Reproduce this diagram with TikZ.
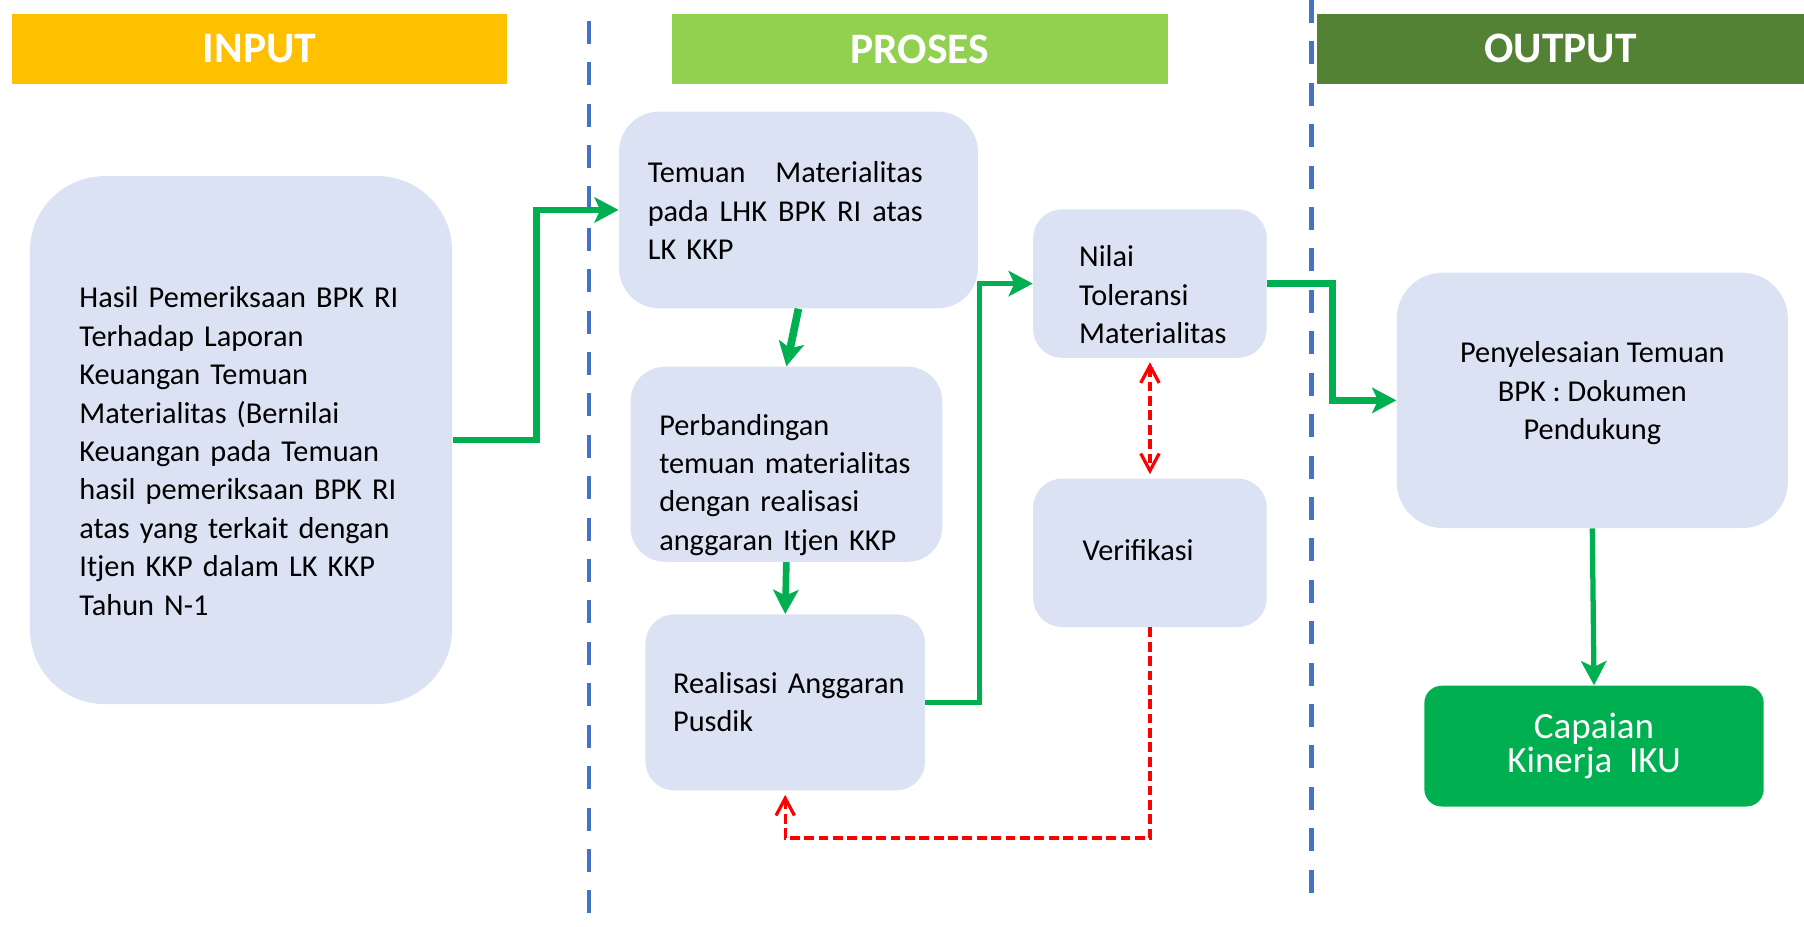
\documentclass[tikz,border=0pt]{standalone}
\usepackage{fontspec}
\setmainfont{Carlito}
\usepackage{xcolor}
\usepackage{tikz}
\usetikzlibrary{positioning, arrows.meta}

\definecolor{boxblue}{HTML}{DAE2F3}
\definecolor{flowgreen}{HTML}{00B050}
\definecolor{laneblue}{HTML}{4472C4}
\definecolor{inputhead}{HTML}{FFC000}
\definecolor{proseshead}{HTML}{92D050}
\definecolor{outputhead}{HTML}{548235}

% lines of a box; the optional length pushes them down by half of it
\newcommand{\boxlines}[3][0pt]{\raisebox{0pt}[\dimexpr\height+#1\relax][\depth]{\begin{tabular}{@{}#2@{}}#3\end{tabular}}}

\tikzset{
    header/.style={fill=#1, text=white, minimum height=1.22cm, inner sep=0pt,
        font=\bfseries\fontsize{21.5}{26}\selectfont},
    stagebox/.style={fill=boxblue, inner sep=0pt, align=left,
        font=\fontsize{15}{19}\selectfont},
    flow/.style={draw=flowgreen, line width=3.3pt, -{Stealth[length=0.42cm, width=0.44cm, inset=0.1cm]}},
    check/.style={draw=red, line width=1.6pt, dash pattern=on 0.17cm off 0.08cm},
    lane/.style={draw=laneblue, line width=2.1pt, dash pattern=on 0.4cm off 0.32cm}
}

\begin{document}
\begin{tikzpicture}[x=0.02cm, y=-0.02cm]
    \useasboundingbox (0,0) rectangle (1568,805);

    % Define the lanes
    \node[header=inputhead, minimum width=8.62cm] (hin) at (225.5,42.5) {INPUT};
    \node[header=proseshead, minimum width=8.62cm] (hpro) at (799.5,42.5) {PROSES};
    \node[header=outputhead, minimum width=8.46cm] (hout) at (1356.5,42.5) {OUTPUT};
    \coordinate (l1top) at (512,18);
    \coordinate (l1bot) at (512,805);
    \coordinate (l2top) at (1140,0);
    \coordinate (l2bot) at (1140,790);
    \draw[lane] (l1top) -- (l1bot);
    \draw[lane] (l2top) -- (l2bot);

    % Define the boxes
    \node[stagebox, rounded corners=1.3cm, minimum width=7.34cm, minimum height=9.18cm, text width=5.62cm] (hasil) at (209.5,382.5)
        {\boxlines[0.48cm]{l}{Hasil Pemeriksaan BPK RI\\ Terhadap Laporan\\ Keuangan Temuan\\ Materialitas (Bernilai\\ Keuangan pada Temuan\\ hasil pemeriksaan BPK RI\\ atas yang terkait dengan\\ Itjen KKP dalam LK KKP\\ Tahun N-1}};
    \node[stagebox, rounded corners=0.7cm, minimum width=6.24cm, minimum height=3.42cm, text width=5.24cm] (temuan) at (694,182.5)
        {\boxlines[0.12cm]{l}{\makebox[4.78cm][l]{Temuan\hfill Materialitas}\\ \makebox[4.78cm][l]{pada\hfill LHK\hfill BPK\hfill RI\hfill atas}\\ LK KKP}};
    \node[stagebox, rounded corners=0.6cm, minimum width=5.42cm, minimum height=3.38cm, text width=4.42cm] (banding) at (683.5,403.5)
        {\boxlines[0.72cm]{l}{Perbandingan\\ temuan materialitas\\ dengan realisasi\\ anggaran Itjen KKP}};
    \node[stagebox, rounded corners=0.5cm, minimum width=4.86cm, minimum height=3.06cm, text width=3.9cm] (realisasi) at (682.5,610.5)
        {\boxlines[0.08cm]{l}{Realisasi Anggaran\\ Pusdik}};
    \node[stagebox, rounded corners=0.5cm, minimum width=4.06cm, minimum height=2.58cm, text width=2.46cm] (nilai) at (999.5,246.5)
        {\boxlines[0.48cm]{l}{Nilai\\ Toleransi\\ Materialitas}};
    \node[stagebox, rounded corners=0.5cm, minimum width=4.06cm, minimum height=2.58cm, text width=2.34cm] (verifikasi) at (999.5,480.5)
        {\boxlines{l}{Verifikasi}};
    \node[stagebox, align=center, rounded corners=0.8cm, minimum width=6.8cm, minimum height=4.44cm] (selesai) at (1384,348)
        {\boxlines[-0.24cm]{c}{Penyelesaian Temuan\\ BPK : Dokumen\\ Pendukung}};
    \node[stagebox, fill=flowgreen, text=white, align=center, rounded corners=0.3cm, minimum width=5.9cm, minimum height=2.1cm,
        font=\fontsize{18.3}{15.5}\selectfont] (capaian) at (1385.5,648.5)
        {Capaian\\ Kinerja\ \ IKU};

    % Define the transitions
    \draw[flow] (hasil.east) -- ++(73,0) |- (temuan.west);
    \draw[flow, line width=3.8pt] (temuan.south) -- (banding.north);
    \draw[flow] (banding.south) -- (realisasi.north);
    \draw[flow, line width=2.6pt] (realisasi.east) -- ++(47,0) |- (nilai.west);
    \draw[flow] (nilai.east) -- ++(57,0) |- (selesai.west);
    \draw[flow, line width=2.6pt] (selesai.south) -- (capaian.north);
    \draw[check, {Straight Barb[length=0.3cm, width=0.32cm]}-{Straight Barb[length=0.3cm, width=0.32cm]}, shorten <=2pt, shorten >=2pt] (nilai.south) -- (verifikasi.north);
    \draw[check, -{Straight Barb[length=0.3cm, width=0.32cm]}, shorten >=2pt] (verifikasi.south) -- ++(0,183) -| (realisasi.south);

\end{tikzpicture}
\end{document}
